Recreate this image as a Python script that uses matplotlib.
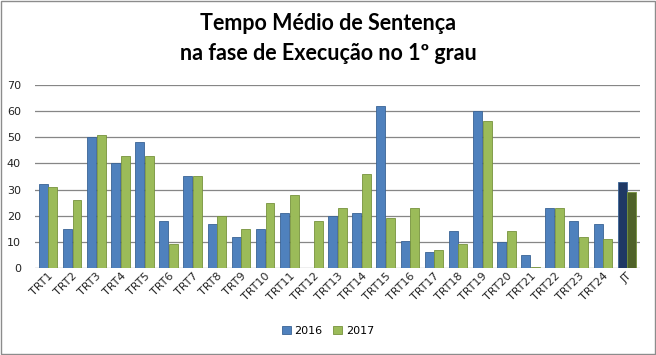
import numpy as np
import matplotlib
matplotlib.use("Agg")
import matplotlib.pyplot as plt
from matplotlib.patches import Rectangle

# Data
categories = ["TRT1", "TRT2", "TRT3", "TRT4", "TRT5", "TRT6", "TRT7", "TRT8",
              "TRT9", "TRT10", "TRT11", "TRT12", "TRT13", "TRT14", "TRT15",
              "TRT16", "TRT17", "TRT18", "TRT19", "TRT20", "TRT21", "TRT22",
              "TRT23", "TRT24", "JT"]
values_2016 = [32, 15, 50, 40, 48, 18, 35, 17, 12, 15, 21, 0, 20, 21, 62,
               10.5, 6, 14, 60, 10, 5, 23, 18, 17, 33]
values_2017 = [31, 26, 51, 43, 43, 9, 35, 20, 15, 25, 28, 18, 23, 36, 19,
               23, 7, 9, 56, 14, 0.5, 23, 12, 11, 29]
series_names = ["2016", "2017"]

blue, green = "#4F81BD", "#9BBB59"
blue_dark, green_dark = "#1F3864", "#4F6228"

fig = plt.figure(figsize=(6.56, 3.55), dpi=100)
ax = fig.add_axes([0.053, 0.245, 0.923, 0.516])

x = np.arange(len(categories))
w = 0.37
c16 = [blue] * (len(categories) - 1) + [blue_dark]
c17 = [green] * (len(categories) - 1) + [green_dark]
ax.bar(x - 0.2, values_2016, w, color=c16, edgecolor="#3A6395", linewidth=0.6,
       label=series_names[0], zorder=3)
ax.bar(x + 0.2, values_2017, w, color=c17, edgecolor="#76923C", linewidth=0.6,
       label=series_names[1], zorder=3)

ax.set_ylim(0, 70)
ax.set_xlim(-0.55, len(categories) - 0.45)
ax.set_yticks(range(0, 71, 10))
ax.yaxis.grid(True, color="#868686", linewidth=0.9, zorder=0)
ax.tick_params(axis="y", length=0, labelsize=8, colors="#222222", pad=10)
ax.tick_params(axis="x", length=0, labelsize=8, colors="#222222", pad=2)
ax.set_xticks(x)
ax.set_xticklabels(categories, rotation=45, ha="right", rotation_mode="anchor")
for s in ax.spines.values():
    s.set_visible(False)

fig.text(0.5, 0.935, "Tempo Médio de Sentença", ha="center", va="center",
         fontsize=15.5, fontweight="bold", family="Lato")
fig.text(0.5, 0.85, "na fase de Execução no 1º grau", ha="center", va="center",
         fontsize=15.5, fontweight="bold", family="Lato")

fig.legend(loc="center", bbox_to_anchor=(0.5, 0.068), ncol=2, frameon=False,
           fontsize=8, handlelength=0.8, handleheight=0.8, columnspacing=1.0,
           handletextpad=0.3)

fig.patches.append(Rectangle((0.002, 0.003), 0.996, 0.994, transform=fig.transFigure,
                             fill=False, edgecolor="#8C8C8C", linewidth=1))

fig.savefig("out.png", dpi=100)
